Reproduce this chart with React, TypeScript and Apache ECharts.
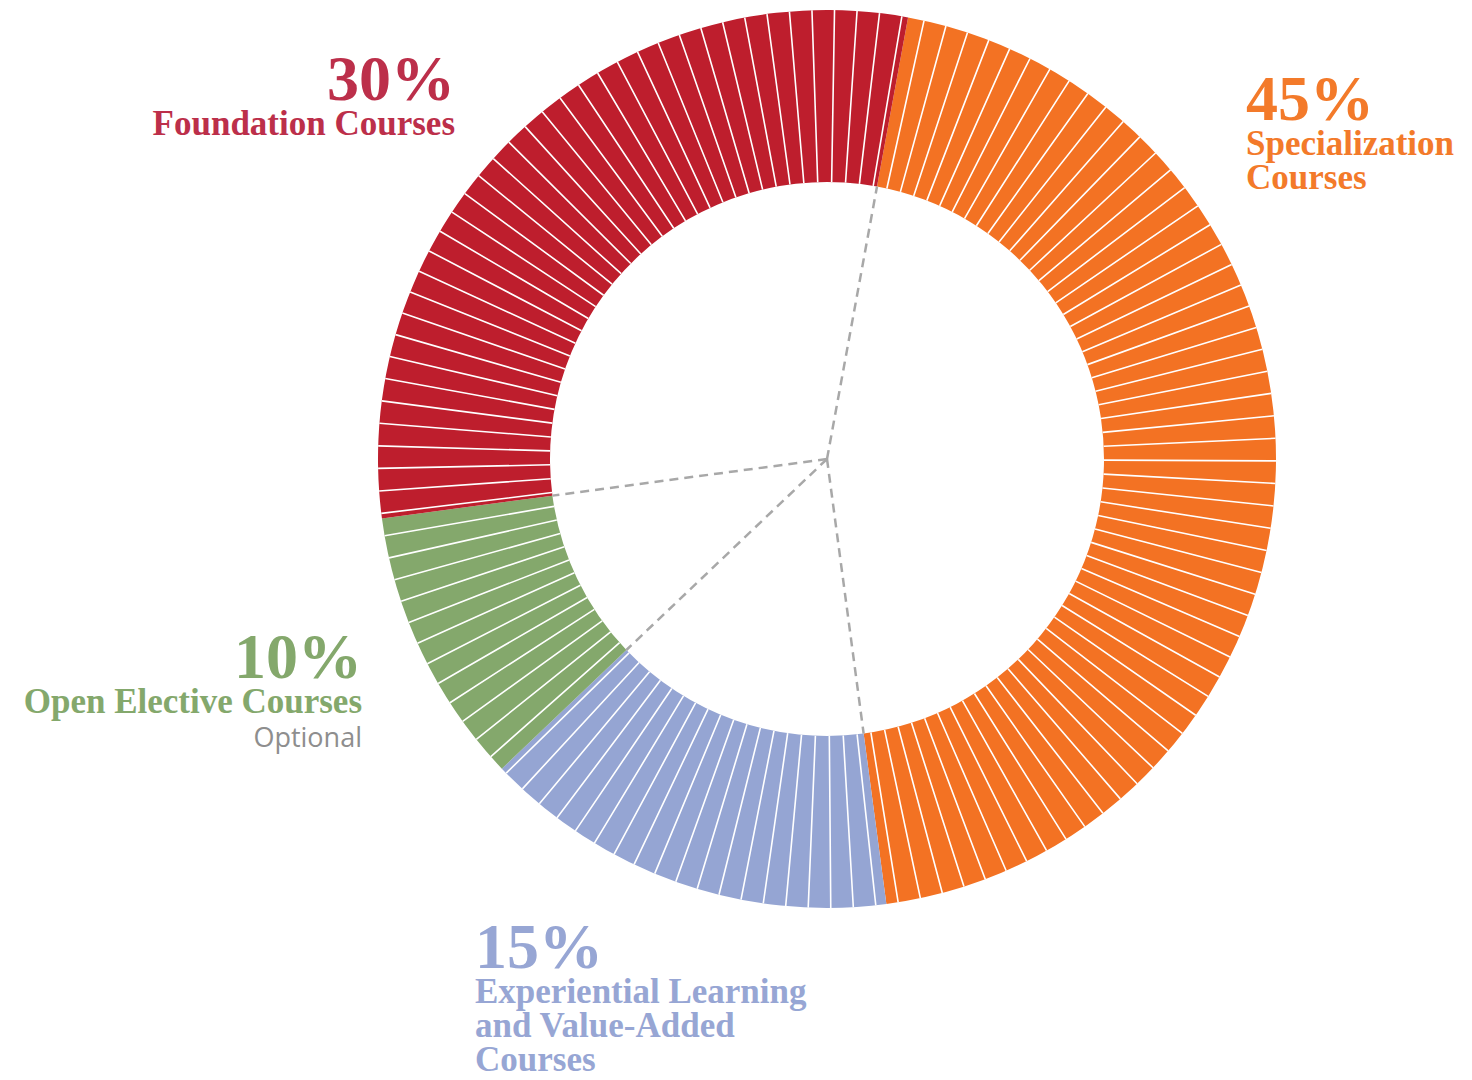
import { useEffect, useRef } from "react";
import * as echarts from "echarts";

// ---- data ----
const categories = [
  "Specialization Courses",
  "Experiential Learning and Value-Added Courses",
  "Open Elective Courses",
  "Foundation Courses",
];
const shares = [45, 15, 10, 30];
const percentLabels = ["45%", "15%", "10%", "30%"];
const nameLines = [
  ["Specialization", "Courses"],
  ["Experiential Learning", "and Value-Added", "Courses"],
  ["Open Elective Courses"],
  ["Foundation Courses"],
];
const noteLabels = ["", "", "Optional", ""];
const sliceColors = ["#F37223", "#95A5D3", "#84A86C", "#BE1E2D"];
const textColors = ["#F37A2A", "#97A6D4", "#84A86C", "#BC2F4A"];
const stripeCount = 125; // thin divisions drawn around the ring

// ---- layout ----
const CX = 827;
const CY = 459;
const R_IN = 277;
const R_OUT = 449;
const PIE_START = 79.6;
const STRIPE_START = 80.4;
const PCT_SIZE = 64;
const NAME_SIZE = 35;
const NOTE_SIZE = 27;
const PCT_LH = 56;
const NAME_LH = 34;
const NOTE_LH = 36;
const labelLayout = [
  { x: 1246, align: "left", pct: 120 },
  { x: 475, align: "left", pct: 968 },
  { x: 362, align: "right", pct: 678 },
  { x: 455, align: "right", pct: 100 },
];

const SERIF = '"Liberation Serif", "Times New Roman", serif';

export default function App() {
  const ref = useRef<HTMLDivElement>(null);
  useEffect(() => {
    document.body.style.margin = "0";
    if (!ref.current) return;
    const chart = echarts.init(ref.current, undefined, { renderer: "svg" });

    const graphics: any[] = [];
    // dashed boundary lines from centre to inner edge
    const total = shares.reduce((a, b) => a + b, 0);
    let cum = 0;
    shares.forEach((v) => {
      const deg = PIE_START - (cum / total) * 360;
      const rad = (deg * Math.PI) / 180;
      graphics.push({
        type: "line",
        z: 20,
        silent: true,
        shape: {
          x1: CX,
          y1: CY,
          x2: CX + R_IN * Math.cos(rad),
          y2: CY - R_IN * Math.sin(rad),
        },
        style: { stroke: "#A8A8A8", lineWidth: 2.5, lineDash: [9, 6] },
      });
      cum += v;
    });

    // labels: one rich text block per category
    categories.forEach((_, i) => {
      const L = labelLayout[i];
      const parts = [`{p|${percentLabels[i]}}`];
      nameLines[i].forEach((line) => parts.push(`{n|${line}}`));
      if (noteLabels[i]) parts.push(`{o|${noteLabels[i]}}`);
      const pctMid = L.pct - 0.34 * PCT_SIZE;
      graphics.push({
        type: "text",
        z: 20,
        x: L.x,
        y: pctMid - PCT_LH / 2,
        style: {
          text: parts.join("\n"),
          align: L.align,
          verticalAlign: "top",
          rich: {
            p: {
              fill: textColors[i],
              font: `bold ${PCT_SIZE}px ${SERIF}`,
              lineHeight: PCT_LH,
              align: L.align,
            },
            n: {
              fill: textColors[i],
              font: `bold ${NAME_SIZE}px ${SERIF}`,
              lineHeight: NAME_LH,
              align: L.align,
            },
            o: {
              fill: "#8E8E8E",
              font: `400 ${NOTE_SIZE}px "Open Sans", Lato, sans-serif`,
              lineHeight: NOTE_LH,
              align: L.align,
            },
          },
        },
      });
    });

    chart.setOption({
      animation: false,
      backgroundColor: "#ffffff",
      polar: { center: [CX, CY], radius: [R_IN, R_OUT] },
      angleAxis: {
        type: "value",
        min: 0,
        max: stripeCount,
        interval: 1,
        startAngle: STRIPE_START,
        clockwise: true,
        z: 10,
        axisLine: { show: false },
        axisTick: { show: false },
        axisLabel: { show: false },
        splitLine: { show: true, lineStyle: { color: "#ffffff", width: 1.6 } },
      },
      radiusAxis: { show: false, min: 0, max: 1 },
      series: [
        {
          type: "pie",
          center: [CX, CY],
          radius: [R_IN, R_OUT],
          startAngle: PIE_START,
          clockwise: true,
          silent: true,
          z: 2,
          label: { show: false },
          labelLine: { show: false },
          itemStyle: { borderWidth: 0 },
          emphasis: { disabled: true },
          data: categories.map((name, i) => ({
            name,
            value: shares[i],
            itemStyle: { color: sliceColors[i] },
          })),
        },
      ],
      graphic: graphics,
    });
    return () => chart.dispose();
  }, []);
  return <div ref={ref} style={{ width: 1472, height: 1080 }} />;
}
